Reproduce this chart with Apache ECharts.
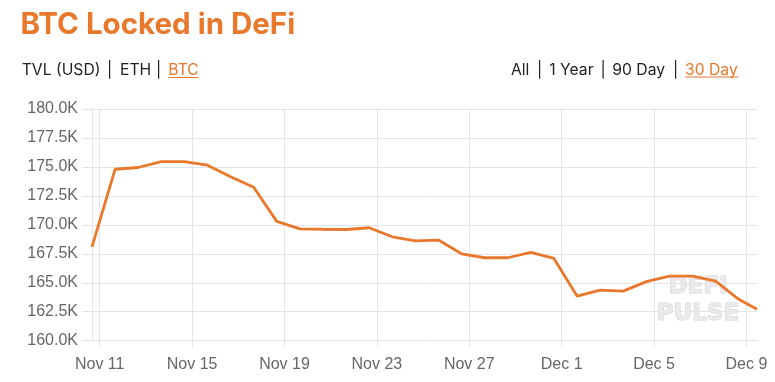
<!DOCTYPE html>
<html>
<head>
<meta charset="utf-8">
<script src="https://cdn.jsdelivr.net/npm/echarts@6/dist/echarts.min.js"></script>
<style>
  html, body { margin: 0; padding: 0; background: #ffffff; }
  #chart { width: 775px; height: 382px; }
</style>
</head>
<body>
<div id="chart"></div>
<script>
// ---- data ----
const dates = [
  '2020-11-10T16:00:00Z', '2020-11-11T16:00:00Z', '2020-11-12T16:00:00Z', '2020-11-13T16:00:00Z',
  '2020-11-14T16:00:00Z', '2020-11-15T16:00:00Z', '2020-11-16T16:00:00Z', '2020-11-17T16:00:00Z',
  '2020-11-18T16:00:00Z', '2020-11-19T16:00:00Z', '2020-11-20T16:00:00Z', '2020-11-21T16:00:00Z',
  '2020-11-22T16:00:00Z', '2020-11-23T16:00:00Z', '2020-11-24T16:00:00Z', '2020-11-25T16:00:00Z',
  '2020-11-26T16:00:00Z', '2020-11-27T16:00:00Z', '2020-11-28T16:00:00Z', '2020-11-29T16:00:00Z',
  '2020-11-30T16:00:00Z', '2020-12-01T16:00:00Z', '2020-12-02T16:00:00Z', '2020-12-03T16:00:00Z',
  '2020-12-04T16:00:00Z', '2020-12-05T16:00:00Z', '2020-12-06T16:00:00Z', '2020-12-07T16:00:00Z',
  '2020-12-08T16:00:00Z', '2020-12-09T11:00:00Z'
];
const btcLocked = [
  168100, 174800, 174950, 175450, 175450, 175150, 174150, 173250,
  170300, 169650, 169620, 169600, 169750, 168970, 168620, 168690,
  167500, 167160, 167160, 167620, 167100, 163850, 164370, 164280,
  165100, 165580, 165580, 165150, 163570, 162720
];
const xTickDates = ['2020-11-11', '2020-11-15', '2020-11-19', '2020-11-23', '2020-11-27', '2020-12-01', '2020-12-05', '2020-12-09'];
const yMin = 160000, yMax = 180000, yStep = 2500;
const monthNames = ['Jan','Feb','Mar','Apr','May','Jun','Jul','Aug','Sep','Oct','Nov','Dec'];

const ORANGE = '#e8782c';
const GRID = '#e4e4e6';
const LABEL = '#666666';

const times = dates.map(d => Date.parse(d));
const seriesData = times.map((t, i) => [t, btcLocked[i]]);
const xTicks = xTickDates.map(d => Date.parse(d + 'T00:00:00Z'));

const chart = echarts.init(document.getElementById('chart'), null, { renderer: 'canvas' });

const headerFont = '15.7px Inter';
function txt(x, text, color, align) {
  return {
    type: 'text', x: x, y: 70.5, silent: true,
    style: { text: text, fill: color || '#222222', font: headerFont, textAlign: align || 'left', textVerticalAlign: 'middle' }
  };
}

chart.setOption({
  animation: false,
  backgroundColor: '#ffffff',
  grid: { left: 92, right: 18, top: 109, bottom: 41.3, containLabel: false },
  xAxis: {
    type: 'value',
    min: times[0],
    max: times[times.length - 1],
    axisLine: { show: true, lineStyle: { color: GRID, width: 1 } },
    axisTick: { show: true, length: 6, customValues: xTicks, lineStyle: { color: GRID } },
    axisLabel: {
      customValues: xTicks,
      margin: 16,
      color: LABEL,
      fontSize: 16,
      fontFamily: 'Liberation Sans',
      formatter: function (v) {
        const d = new Date(v);
        return monthNames[d.getUTCMonth()] + ' ' + d.getUTCDate();
      }
    },
    splitLine: { show: true, lineStyle: { color: GRID, width: 1 } }
  },
  yAxis: {
    type: 'value',
    min: yMin, max: yMax, interval: yStep,
    axisLine: { show: true, lineStyle: { color: GRID, width: 1 } },
    axisTick: { show: true, length: 10, lineStyle: { color: GRID } },
    axisLabel: {
      margin: 14,
      color: LABEL,
      fontSize: 16,
      fontFamily: 'Liberation Sans',
      formatter: v => (v / 1000).toFixed(1) + 'K'
    },
    splitLine: { show: true, lineStyle: { color: GRID, width: 1 } }
  },
  series: [{
    type: 'line',
    data: seriesData,
    showSymbol: false,
    symbol: 'none',
    lineStyle: { color: ORANGE, width: 2.8 },
    itemStyle: { color: ORANGE },
    z: 3
  }],
  graphic: [
    {
      type: 'text', x: 20.5, y: 25, silent: true,
      style: { text: 'BTC Locked in DeFi', fill: ORANGE, font: 'bold 29.5px Inter', textVerticalAlign: 'middle' }
    },
    txt(21.7, 'TVL (USD)'),
    txt(109.5, '|', '#222222', 'center'),
    txt(120, 'ETH'),
    txt(158.5, '|', '#222222', 'center'),
    txt(168.3, 'BTC', ORANGE),
    { type: 'line', silent: true, shape: { x1: 168.3, y1: 77.5, x2: 198.3, y2: 77.5 }, style: { stroke: ORANGE, lineWidth: 1 } },
    txt(511, 'All'),
    txt(539.5, '|', '#222222', 'center'),
    txt(549.3, '1 Year'),
    txt(603, '|', '#222222', 'center'),
    txt(612.3, '90 Day'),
    txt(675.5, '|', '#222222', 'center'),
    txt(685, '30 Day', ORANGE),
    { type: 'line', silent: true, shape: { x1: 685, y1: 77, x2: 738.3, y2: 77 }, style: { stroke: ORANGE, lineWidth: 1 } },
    {
      type: 'text', x: 698, y: 287.5, z: 1, silent: true,
      style: { text: 'DEFI', fill: '#eaeaec', stroke: '#d2d2d6', lineWidth: 1, font: 'bold 23px "DejaVu Sans"', textAlign: 'center', textVerticalAlign: 'middle' }
    },
    {
      type: 'text', x: 698, y: 314, z: 1, silent: true,
      style: { text: 'PULSE', fill: '#eaeaec', stroke: '#d2d2d6', lineWidth: 1, font: 'bold 23px "DejaVu Sans"', textAlign: 'center', textVerticalAlign: 'middle' }
    }
  ]
});
</script>
</body>
</html>
